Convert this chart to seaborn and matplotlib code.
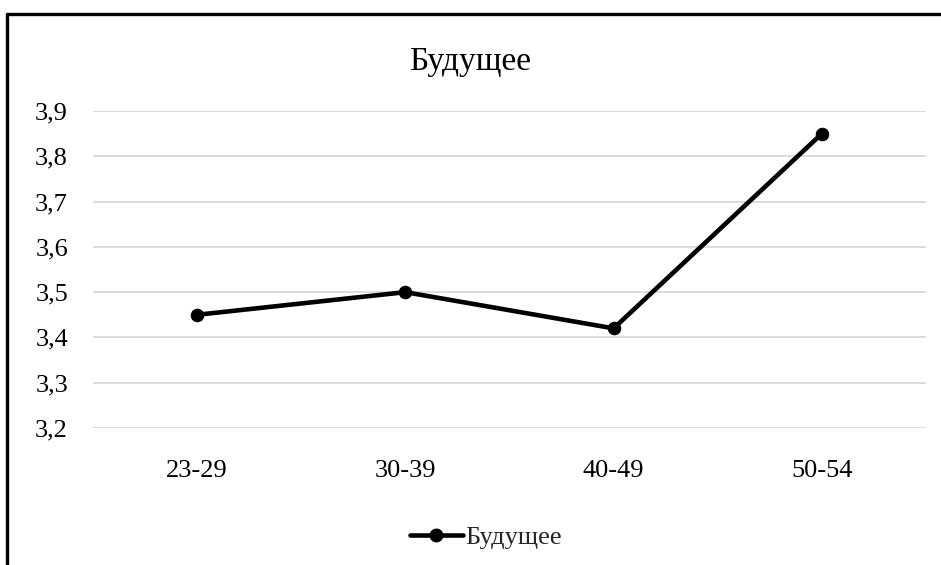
import matplotlib
matplotlib.use("Agg")
import matplotlib.pyplot as plt
from matplotlib.lines import Line2D
import seaborn as sns
import pandas as pd

# Age groups and mean score for "Будущее"
age_groups = ["23-29", "30-39", "40-49", "50-54"]
scores = [3.45, 3.50, 3.42, 3.85]
series_name = "Будущее"
y_ticks = [3.2, 3.3, 3.4, 3.5, 3.6, 3.7, 3.8, 3.9]

sns.set_style("white")
plt.rcParams["font.family"] = ["Liberation Serif", "DejaVu Serif"]

df = pd.DataFrame({"group": age_groups, "score": scores, "series": series_name})

W, H = 941, 565
fig = plt.figure(figsize=(W / 100, H / 100), dpi=100)
ax = fig.add_axes([93 / W, 1 - 428 / H, (926 - 93) / W, (428 - 111) / H])

sns.lineplot(data=df, x="group", y="score", ax=ax, color="black",
             linewidth=3.3, marker="o", markersize=9,
             markeredgecolor="black", legend=False, sort=False)

ax.set_xlim(-0.5, len(age_groups) - 0.5)
ax.set_ylim(y_ticks[0], y_ticks[-1])
ax.set_yticks(y_ticks)
ax.set_yticklabels([f"{v:.1f}".replace(".", ",") for v in y_ticks])
ax.set_xticks(range(len(age_groups)))
ax.set_xticklabels(age_groups)
ax.set_xlabel("")
ax.set_ylabel("")

ax.yaxis.grid(True, color="#d9d9d9", linewidth=1.3)
ax.xaxis.grid(False)
ax.set_axisbelow(True)
for s in ax.spines.values():
    s.set_visible(False)
ax.tick_params(axis="both", length=0, labelsize=19, colors="#000000")
ax.tick_params(axis="x", pad=23)
ax.tick_params(axis="y", pad=18)

# Chart title
fig.text(470 / W, 1 - 62 / H, series_name, ha="center", va="center",
         fontsize=24, color="black")

# Legend below the plot
handle = Line2D([], [], color="black", linewidth=3.3, marker="o",
                markersize=9, markeredgecolor="black")
fig.legend([handle], [series_name], loc="center",
           bbox_to_anchor=(486 / W, 1 - 537 / H), frameon=False,
           fontsize=19, handlelength=2.0, handletextpad=0.1,
           borderpad=0)

# Chart frame (top and left edges)
fig.add_artist(Line2D([7 / W, 1.01], [1 - 14 / H, 1 - 14 / H],
                      transform=fig.transFigure, color="black", linewidth=2.4))
fig.add_artist(Line2D([7 / W, 7 / W], [1 - 14 / H, -0.01],
                      transform=fig.transFigure, color="black", linewidth=2.4))

fig.savefig("out.png", dpi=100)
